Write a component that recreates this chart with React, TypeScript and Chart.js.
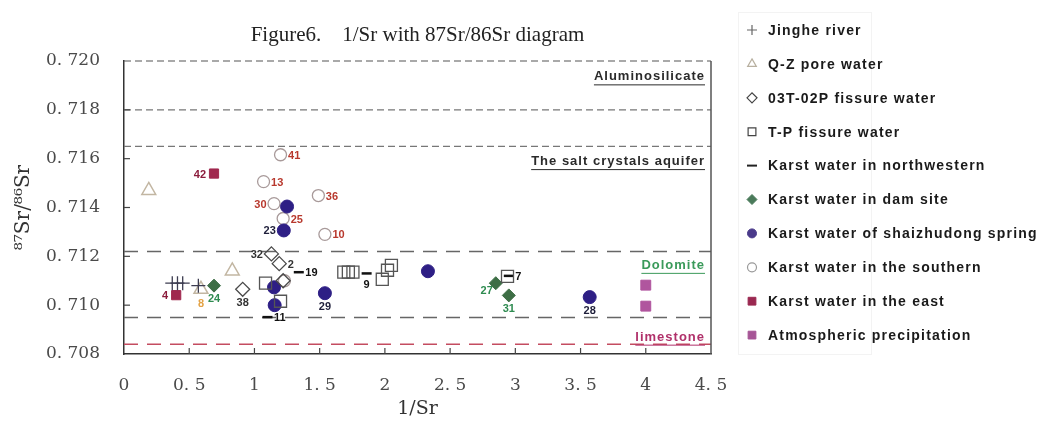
import React, { useEffect, useRef } from 'react';
import { Chart, registerables } from 'chart.js';
import { drawPoint } from 'chart.js/helpers';

Chart.register(...registerables);

// ---------- text ----------
const TITLE = 'Figure6.    1/Sr with 87Sr/86Sr diagram';
const X_TITLE = '1/Sr';
const Y_TITLE = '⁸⁷Sr/⁸⁶Sr';
const X_TICK_LABELS = ['0', '0. 5', '1', '1. 5', '2', '2. 5', '3', '3. 5', '4', '4. 5'];
const Y_TICK_LABELS = ['0. 708', '0. 710', '0. 712', '0. 714', '0. 716', '0. 718', '0. 720'];
const X_MIN = 0;
const X_MAX = 4.5;
const X_STEP = 0.5;
const Y_MIN = 0.708;
const Y_MAX = 0.72;
const Y_STEP = 0.002;

const SERIES_NAMES = [
  'Jinghe river',
  'Q-Z pore water',
  '03T-02P fissure water',
  'T-P fissure water',
  'Karst water in northwestern',
  'Karst water in dam site',
  'Karst water of shaizhudong spring',
  'Karst water in the southern',
  'Karst water in the east',
  'Atmospheric precipitation',
];

// ---------- data ----------
const JINGHE_X = [0.37, 0.41, 0.45, 0.57];
const JINGHE_Y = [0.7109, 0.7109, 0.7109, 0.7108];

const QZ_X = [0.19, 0.83, 0.59];
const QZ_Y = [0.7147, 0.7114, 0.71065];
const QZ_LABELS = ['', '', '8'];

const T03_X = [1.13, 1.19, 0.91, 1.22];
const T03_Y = [0.7121, 0.7117, 0.71065, 0.711];
const T03_LABELS = ['32', '2', '38', ''];

const TP_X = [1.085, 1.2, 1.685, 1.72, 1.755, 1.98, 2.02, 2.05, 2.94];
const TP_Y = [0.7109, 0.71016, 0.71135, 0.71135, 0.71135, 0.71106, 0.71143, 0.71163, 0.71118];

const NW_X = [1.34, 1.1, 1.86, 2.95];
const NW_Y = [0.71135, 0.70951, 0.7113, 0.7112];
const NW_LABELS = ['19', '11', '9', '7'];

const DAM_X = [0.69, 2.85, 2.95];
const DAM_Y = [0.7108, 0.7109, 0.7104];
const DAM_LABELS = ['24', '27', '31'];

const SZD_X = [1.25, 1.225, 1.15, 1.155, 1.54, 2.33, 3.57];
const SZD_Y = [0.71404, 0.71306, 0.71073, 0.71, 0.71049, 0.71139, 0.71033];
const SZD_LABELS = ['', '23', '', '', '29', '', '28'];

const SOUTH_X = [1.2, 1.07, 1.15, 1.49, 1.22, 1.54, 1.23];
const SOUTH_Y = [0.71616, 0.71506, 0.71416, 0.71449, 0.71355, 0.7129, 0.711];
const SOUTH_LABELS = ['41', '13', '30', '36', '25', '10', ''];

const EAST_X = [0.69, 0.4];
const EAST_Y = [0.71539, 0.71041];
const EAST_LABELS = ['42', '4'];

const ATM_X = [4.0, 4.0];
const ATM_Y = [0.71082, 0.70996];

const BOUNDARY_LEVELS = [0.72, 0.718, 0.7165, 0.7122, 0.7095, 0.7084];
const ZONE_NAMES = ['Aluminosilicate', 'The salt crystals aquifer', 'Dolomite', 'limestone'];
const ZONE_LABEL_Y = [0.71935, 0.71588, 0.71163, 0.70869];

// ---------- styles (kept apart from data) ----------
const QZ_LABEL_POS = ['', '', 'b'];
const T03_LABEL_POS = ['l', 'r', 'b', ''];
const NW_LABEL_POS = ['r', 'r', 'b', 'r'];
const DAM_LABEL_POS = ['b', 'bl', 'b'];
const SZD_LABEL_POS = ['', 'l', '', '', 'b', '', 'b'];
const SOUTH_LABEL_POS = ['r', 'r', 'l', 'r', 'r', 'r', ''];
const EAST_LABEL_POS = ['l', 'l'];

const BOUNDARY_STYLES = [
  { color: '#555555', dash: [7, 4], width: 1.2 },
  { color: '#777777', dash: [7, 4], width: 1.2 },
  { color: '#777777', dash: [7, 4], width: 1.2 },
  { color: '#666666', dash: [14, 9], width: 1.5 },
  { color: '#666666', dash: [14, 9], width: 1.5 },
  { color: '#c44c60', dash: [14, 9], width: 1.5 },
];
const ZONE_COLORS = ['#2a2a2a', '#2a2a2a', '#3a9a5a', '#b0306a'];

const pts = (xs: number[], ys: number[]) => xs.map((x, i) => ({ x, y: ys[i] }));
const NONE = 'rgba(0,0,0,0)';

function buildDatasets() {
  const series: any[] = [
    {
      label: SERIES_NAMES[0], data: pts(JINGHE_X, JINGHE_Y), pointStyle: 'cross', pointRadius: 7,
      borderColor: '#3c3c50', backgroundColor: '#3c3c50', borderWidth: 1.3,
      legendMarker: { fill: NONE, stroke: '#666', lw: 1.2, r: 5 },
    },
    {
      label: SERIES_NAMES[1], data: pts(QZ_X, QZ_Y), pointStyle: 'triangle', pointRadius: 8,
      borderColor: '#c2b6a2', backgroundColor: NONE, borderWidth: 1.5,
      ptLabels: QZ_LABELS, ptLabelPos: QZ_LABEL_POS, ptLabelColor: '#e3a245',
      legendMarker: { fill: NONE, stroke: '#b8b0a0', lw: 1.2, r: 5 },
    },
    {
      label: SERIES_NAMES[2], data: pts(T03_X, T03_Y), pointStyle: 'rectRot', pointRadius: 7,
      borderColor: '#4a4a4a', backgroundColor: NONE, borderWidth: 1.3,
      ptLabels: T03_LABELS, ptLabelPos: T03_LABEL_POS, ptLabelColor: '#333',
      legendMarker: { fill: NONE, stroke: '#444', lw: 1.2, r: 5 },
    },
    {
      label: SERIES_NAMES[3], data: pts(TP_X, TP_Y), pointStyle: 'rect', pointRadius: 8.5,
      borderColor: '#555', backgroundColor: NONE, borderWidth: 1.3,
      legendMarker: { fill: NONE, stroke: '#444', lw: 1.2, r: 5.5 },
    },
    {
      label: SERIES_NAMES[4], data: pts(NW_X, NW_Y), pointStyle: 'line', pointRadius: 5,
      borderColor: '#111', backgroundColor: '#111', borderWidth: 2.5,
      ptLabels: NW_LABELS, ptLabelPos: NW_LABEL_POS, ptLabelColor: '#111',
      legendMarker: { fill: '#222', stroke: '#222', lw: 2, r: 5 },
    },
    {
      label: SERIES_NAMES[5], data: pts(DAM_X, DAM_Y), pointStyle: 'rectRot', pointRadius: 6.5,
      borderColor: '#3d6e45', backgroundColor: '#3d6e45', borderWidth: 1,
      ptLabels: DAM_LABELS, ptLabelPos: DAM_LABEL_POS, ptLabelColor: '#2e8b50',
      legendMarker: { fill: '#4a7a5a', stroke: '#4a7a5a', lw: 1, r: 5 },
    },
    {
      label: SERIES_NAMES[6], data: pts(SZD_X, SZD_Y), pointStyle: 'circle', pointRadius: 6.5,
      borderColor: '#2e1f85', backgroundColor: '#2e1f85', borderWidth: 1,
      ptLabels: SZD_LABELS, ptLabelPos: SZD_LABEL_POS, ptLabelColor: '#1e1e3a',
      legendMarker: { fill: '#4a3a8a', stroke: '#4a3a8a', lw: 1, r: 4.5 },
    },
    {
      label: SERIES_NAMES[7], data: pts(SOUTH_X, SOUTH_Y), pointStyle: 'circle', pointRadius: 6,
      borderColor: '#a89a9a', backgroundColor: NONE, borderWidth: 1.3,
      ptLabels: SOUTH_LABELS, ptLabelPos: SOUTH_LABEL_POS, ptLabelColor: '#b8392e',
      legendMarker: { fill: NONE, stroke: '#999', lw: 1.2, r: 4.5 },
    },
    {
      label: SERIES_NAMES[8], data: pts(EAST_X, EAST_Y), pointStyle: 'rect', pointRadius: 6.5,
      borderColor: '#a0284e', backgroundColor: '#a0284e', borderWidth: 1,
      ptLabels: EAST_LABELS, ptLabelPos: EAST_LABEL_POS, ptLabelColor: '#8b1c3c',
      legendMarker: { fill: '#9a2850', stroke: '#9a2850', lw: 1, r: 5.5 },
    },
    {
      label: SERIES_NAMES[9], data: pts(ATM_X, ATM_Y), pointStyle: 'rect', pointRadius: 7,
      borderColor: '#b0559e', backgroundColor: '#b0559e', borderWidth: 1,
      legendMarker: { fill: '#a65596', stroke: '#a65596', lw: 1, r: 5.5 },
    },
  ];
  const boundaries = BOUNDARY_LEVELS.map((v, i) => ({
    label: 'boundary ' + v,
    data: [{ x: X_MIN, y: v }, { x: X_MAX, y: v }],
    showLine: true,
    pointRadius: 0,
    borderColor: BOUNDARY_STYLES[i].color,
    borderDash: BOUNDARY_STYLES[i].dash,
    borderWidth: BOUNDARY_STYLES[i].width,
    backgroundColor: NONE,
    clip: false,
    order: 1,
  }));
  return [...series, ...boundaries];
}

const pointLabelPlugin = {
  id: 'pointLabels',
  afterDatasetsDraw(chart: any) {
    const ctx = chart.ctx;
    chart.data.datasets.forEach((ds: any, di: number) => {
      if (!ds.ptLabels) return;
      const meta = chart.getDatasetMeta(di);
      ctx.save();
      ctx.font = 'bold 11px "Liberation Sans", Arial, sans-serif';
      ctx.fillStyle = ds.ptLabelColor;
      meta.data.forEach((el: any, j: number) => {
        const t = ds.ptLabels[j];
        if (!t) return;
        const pos = ds.ptLabelPos[j];
        const r = ds.pointRadius;
        let x = el.x;
        let y = el.y;
        if (pos === 'r') {
          ctx.textAlign = 'left'; ctx.textBaseline = 'middle'; x += r + 1.5; y += 1;
        } else if (pos === 'l') {
          ctx.textAlign = 'right'; ctx.textBaseline = 'middle'; x -= r + 1.5; y += 1;
        } else if (pos === 'b') {
          ctx.textAlign = 'center'; ctx.textBaseline = 'top'; y += r + 1.5;
        } else if (pos === 'bl') {
          ctx.textAlign = 'right'; ctx.textBaseline = 'top'; x -= 3; y += r * 0.4;
        }
        ctx.fillText(t, x, y);
      });
      ctx.restore();
    });
  },
};

const framePlugin = {
  id: 'frameAndZones',
  afterDatasetsDraw(chart: any) {
    const { ctx, chartArea: a, scales } = chart;
    ctx.save();
    // right frame
    ctx.strokeStyle = '#555';
    ctx.lineWidth = 1.5;
    ctx.beginPath();
    ctx.moveTo(a.right, a.top);
    ctx.lineTo(a.right, a.bottom);
    ctx.stroke();
    // inward ticks
    ctx.strokeStyle = '#444';
    ctx.lineWidth = 1.2;
    scales.x.ticks.forEach((t: any) => {
      if (t.value <= X_MIN || t.value >= X_MAX) return;
      const px = scales.x.getPixelForValue(t.value);
      ctx.beginPath();
      ctx.moveTo(px, a.bottom);
      ctx.lineTo(px, a.bottom - 6);
      ctx.stroke();
    });
    scales.y.ticks.forEach((t: any) => {
      if (t.value <= Y_MIN + 1e-9 || t.value >= Y_MAX - 1e-9) return;
      const py = scales.y.getPixelForValue(t.value);
      ctx.beginPath();
      ctx.moveTo(a.left, py);
      ctx.lineTo(a.left + 6, py);
      ctx.stroke();
    });
    // zone labels
    ctx.font = 'bold 13px "Liberation Sans", Arial, sans-serif';
    (ctx as any).letterSpacing = '1px';
    ctx.textAlign = 'right';
    ctx.textBaseline = 'middle';
    ZONE_NAMES.forEach((name, i) => {
      const py = scales.y.getPixelForValue(ZONE_LABEL_Y[i]);
      const xr = a.right - 6;
      ctx.fillStyle = ZONE_COLORS[i];
      ctx.fillText(name, xr, py);
      const w = ctx.measureText(name).width;
      ctx.strokeStyle = ZONE_COLORS[i];
      ctx.lineWidth = 1;
      ctx.beginPath();
      ctx.moveTo(xr - w, py + 8);
      ctx.lineTo(xr, py + 8);
      ctx.stroke();
    });
    ctx.restore();
  },
};

const sideLegendPlugin = {
  id: 'sideLegend',
  afterDraw(chart: any) {
    const { ctx, chartArea: a } = chart;
    const items = chart.data.datasets.filter((d: any) => d.legendMarker);
    ctx.save();
    ctx.strokeStyle = '#f3f3f3';
    ctx.lineWidth = 1;
    ctx.strokeRect(a.right + 27.5, 12.5, 133, a.bottom - 12);
    items.forEach((ds: any, i: number) => {
      const cy = a.top - 31 + i * 33.9;
      const cx = a.right + 41;
      const m = ds.legendMarker;
      ctx.fillStyle = m.fill;
      ctx.strokeStyle = m.stroke;
      ctx.lineWidth = m.lw;
      drawPoint(ctx, { pointStyle: ds.pointStyle, radius: m.r, borderWidth: m.lw, rotation: 0 } as any, cx, cy);
      ctx.fillStyle = '#1a1a1a';
      ctx.font = 'bold 14px "Liberation Sans", Arial, sans-serif';
      (ctx as any).letterSpacing = '1.2px';
      ctx.textAlign = 'left';
      ctx.textBaseline = 'middle';
      ctx.fillText(ds.label, a.right + 57, cy + 1);
      (ctx as any).letterSpacing = '0px';
    });
    ctx.restore();
  },
};

export default function App() {
  const ref = useRef<HTMLCanvasElement | null>(null);
  useEffect(() => {
    if (!ref.current) return;
    const chart = new Chart(ref.current, {
      type: 'scatter',
      data: { datasets: buildDatasets() as any },
      options: {
        responsive: false,
        animation: false,
        events: [],
        layout: { padding: { left: 0, right: 335, top: 0, bottom: 0 } },
        plugins: {
          legend: { display: false },
          tooltip: { enabled: false },
          title: {
            display: true,
            text: TITLE,
            fullSize: false,
            color: '#222',
            font: { family: '"Liberation Serif", "Times New Roman", serif', size: 21, weight: 'normal' },
            padding: { top: 22.5, bottom: 13.3 },
          },
        },
        scales: {
          x: {
            type: 'linear',
            min: X_MIN,
            max: X_MAX,
            ticks: {
              stepSize: X_STEP,
              autoSkip: false,
              maxRotation: 0,
              padding: 0,
              color: '#4a4a4a',
              font: { family: '"DejaVu Serif", serif', size: 17 },
              callback: (_v: any, i: number) => X_TICK_LABELS[i],
            },
            grid: { drawOnChartArea: false, drawTicks: true, tickLength: 21, tickColor: NONE },
            border: { display: true, color: '#333', width: 1.5 },
            title: {
              display: true,
              text: X_TITLE,
              color: '#333',
              font: { family: '"DejaVu Serif", serif', size: 19 },
              padding: { top: 0, bottom: 8 },
            },
            afterFit: (s: any) => { s.height = 74; },
          },
          y: {
            type: 'linear',
            min: Y_MIN,
            max: Y_MAX,
            ticks: {
              stepSize: Y_STEP,
              autoSkip: false,
              padding: 0,
              color: '#4a4a4a',
              font: { family: '"DejaVu Serif", serif', size: 17 },
              callback: (_v: any, i: number) => Y_TICK_LABELS[i],
            },
            grid: { drawOnChartArea: false, drawTicks: true, tickLength: 24, tickColor: NONE },
            border: { display: true, color: '#333', width: 1.5 },
            title: {
              display: true,
              text: Y_TITLE,
              color: '#333',
              font: { family: '"DejaVu Serif", serif', size: 20 },
              padding: { top: 12, bottom: 0 },
            },
            afterFit: (s: any) => { s.width = 124; },
          },
        },
      } as any,
      plugins: [pointLabelPlugin, framePlugin, sideLegendPlugin],
    });
    return () => chart.destroy();
  }, []);
  return (
    <div style={{ position: 'absolute', left: 0, top: 0, width: 1046, height: 428, background: '#fff' }}>
      <canvas ref={ref} width={1046} height={428} style={{ display: 'block' }} />
    </div>
  );
}
